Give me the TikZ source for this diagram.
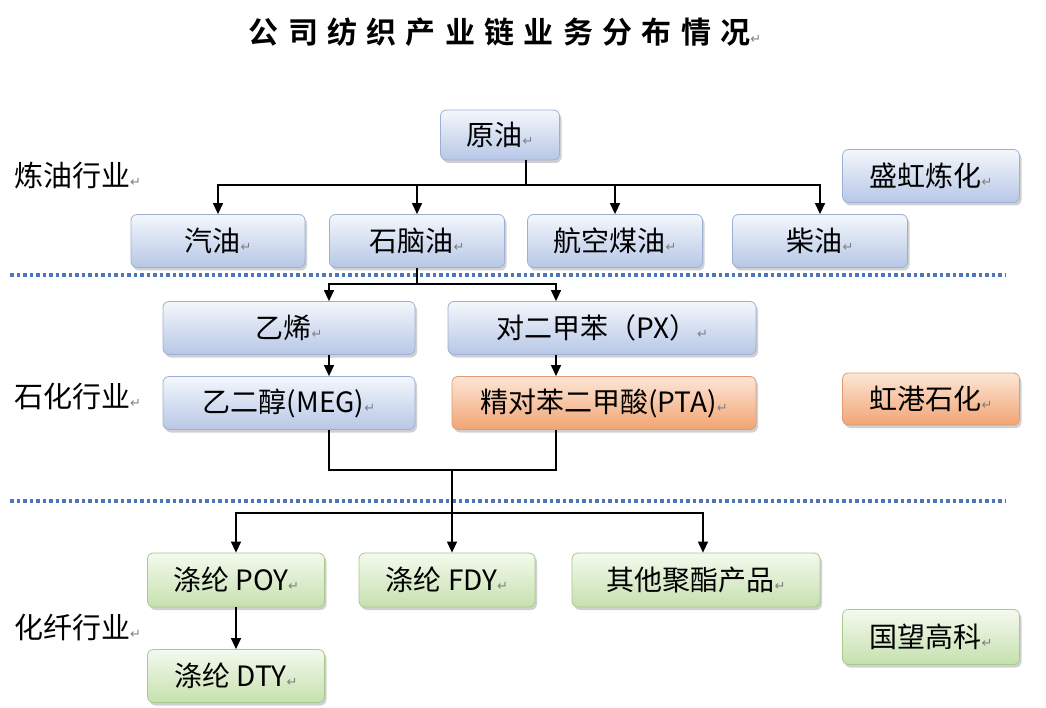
\documentclass[tikz,border=0pt]{standalone}
\usepackage{fontspec}
\setmainfont{Noto Sans CJK SC}
\newfontfamily\titlefont[LetterSpace=31]{Noto Sans CJK SC Bold}
\newfontfamily\symfont{DejaVu Sans}
\usetikzlibrary{arrows.meta,shadows}
\definecolor{bbt}{HTML}{F4F7FC}
\definecolor{bbb}{HTML}{B7C7E6}
\definecolor{bbd}{HTML}{9DB0D3}
\definecolor{obt}{HTML}{FCE6D6}
\definecolor{obb}{HTML}{F2A473}
\definecolor{obd}{HTML}{DE9C72}
\definecolor{gbt}{HTML}{F4FAEE}
\definecolor{gbb}{HTML}{C6E0AE}
\definecolor{gbd}{HTML}{A7C98C}
\definecolor{dotblue}{HTML}{4F75BE}
\newcommand\retmark{{\symfont\fontsize{13}{13}\selectfont\color{gray}↵}}
\begin{document}
\begin{tikzpicture}[x=1pt,y=-1pt,
  base/.style={rounded corners=6pt, line width=0.8pt, minimum height=53pt, inner sep=0pt,
    font=\fontsize{28}{28}\selectfont,
    drop shadow={shadow xshift=2pt, shadow yshift=-3pt, opacity=0.3, fill=black!60}},
  bluebox/.style={base, draw=bbd, top color=bbt, bottom color=bbb},
  orangebox/.style={base, draw=obd, top color=obt, bottom color=obb},
  greenbox/.style={base, draw=gbd, top color=gbt, bottom color=gbb},
  sidelabel/.style={anchor=west, inner sep=0pt, font=\fontsize{29}{29}\selectfont},
  line/.style={line width=1.3pt, draw=black},
  arr/.style={line, -{Triangle[length=11pt,width=10pt]}},
  dotsep/.style={draw=dotblue, line width=3.5pt, dash pattern=on 3.5pt off 3pt}
]
\fill[white] (0,0) rectangle (1046,708);
\useasboundingbox (0,0) rectangle (1046,708);

% title
\node[font=\titlefont\fontsize{30}{30}\selectfont] (title) at (505,32) {公司纺织产业链业务分布情况\retmark};

% side labels
\node[sidelabel] (l1) at (14,175) {炼油行业\retmark};
\node[sidelabel] (l2) at (14,397) {石化行业\retmark};
\node[sidelabel] (l3) at (14,628) {化纤行业\retmark};

% separators
\draw[dotsep] (10,275) -- (1005,275);
\draw[dotsep] (10,501) -- (1005,501);

% refining
\node[bluebox, minimum width=119pt, minimum height=50pt] (yy) at (500,135) {原油\retmark};
\node[bluebox, minimum width=177pt] (sh) at (931,176) {盛虹炼化\retmark};
\node[bluebox, minimum width=174pt] (qy) at (218,241) {汽油\retmark};
\node[bluebox, minimum width=175pt] (snr) at (417,241) {石脑油\retmark};
\node[bluebox, minimum width=175pt] (hk) at (615,241) {航空煤油\retmark};
\node[bluebox, minimum width=175pt] (cy) at (820,241) {柴油\retmark};

% petrochemical
\node[bluebox, minimum width=252pt] (yx) at (289,328) {乙烯\retmark};
\node[bluebox, minimum width=308pt] (px) at (602,328) {对二甲苯（PX）\retmark};
\node[bluebox, minimum width=252pt] (meg) at (289,403) {乙二醇(MEG)\retmark};
\node[orangebox, minimum width=304pt] (pta) at (604,403) {精对苯二甲酸(PTA)\retmark};
\node[orangebox, minimum width=177pt, minimum height=52pt] (hg) at (931,399) {虹港石化\retmark};

% fibre
\node[greenbox, minimum width=177pt, minimum height=54pt] (poy) at (236,580) {涤纶 POY\retmark};
\node[greenbox, minimum width=176pt, minimum height=54pt] (fdy) at (447,580) {涤纶 FDY\retmark};
\node[greenbox, minimum width=248pt, minimum height=54pt] (qt) at (696,580) {其他聚酯产品\retmark};
\node[greenbox, minimum width=177pt, minimum height=55pt] (gw) at (931,637) {国望高科\retmark};
\node[greenbox, minimum width=177pt, minimum height=53pt] (dty) at (236,676) {涤纶 DTY\retmark};

% connectors: refining
\coordinate (b1) at (526,185);
\draw[line] (yy.south -| b1) -- (b1);
\draw[arr] (b1) -| (qy.north);
\draw[arr] (b1) -| (snr.north);
\draw[arr] (b1) -| (hk.north);
\draw[arr] (b1) -| (cy.north);

% connectors: petrochemical
\coordinate (b2) at (417,284);
\draw[line] (snr.south) -- (b2);
\draw[arr] (b2) -| ([xshift=40pt]yx.north);
\draw[arr] (b2) -| ([xshift=-46pt]px.north);
\draw[arr] ([xshift=40pt]yx.south) -- ([xshift=40pt]meg.north);
\draw[arr] ([xshift=-46pt]px.south) -- ([xshift=-48pt]pta.north);
\coordinate (b3) at (452,470);
\draw[line] ([xshift=40pt]meg.south) |- (b3) -| ([xshift=-48pt]pta.south);

% connectors: fibre
\coordinate (b4) at (452,513);
\draw[arr] (b3) -- (b3 |- fdy.north);
\draw[arr] (b4) -| (poy.north);
\draw[arr] (b4) -| ([xshift=7pt]qt.north);
\draw[arr] (poy.south) -- (dty.north);
\end{tikzpicture}
\end{document}
